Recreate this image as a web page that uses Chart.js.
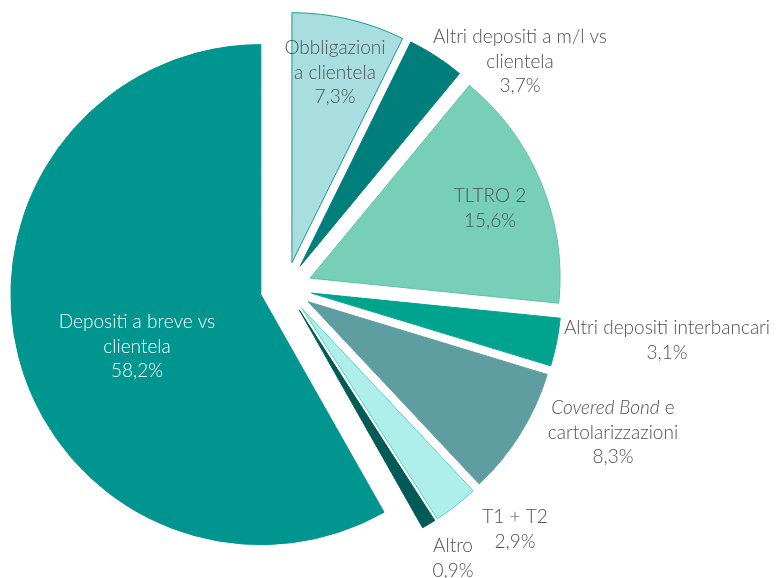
<!DOCTYPE html>
<html>
<head>
<meta charset="utf-8">
<script src="https://cdn.jsdelivr.net/npm/chart.js@4.4.0/dist/chart.umd.min.js"></script>
<style>
    body { margin: 0; background: #ffffff; }
    #wrap { width: 778px; height: 578px; position: relative; }
</style>
</head>
<body>
<div id="wrap"><canvas id="pieChart"></canvas></div>
<script>
//Main variables
var categories = ["Obbligazioni a clientela", "Altri depositi a m/l vs clientela", "TLTRO 2",
    "Altri depositi interbancari", "Covered Bond e cartolarizzazioni", "T1 + T2", "Altro",
    "Depositi a breve vs clientela"];
var values = [7.3, 3.7, 15.6, 3.1, 8.3, 2.9, 0.9, 58.2];
var valueLabels = ["7,3%", "3,7%", "15,6%", "3,1%", "8,3%", "2,9%", "0,9%", "58,2%"];

var fillColors = ['#a8dedf', '#007e7b', '#76cfb6', '#00a48e', '#5f9ea0', '#aeefec', '#005a56', '#00958f'];
var lineColors = ['#1a9a96', '#007e7b', '#5fc2a6', '#00a48e', '#5f9ea0', '#4fd3cc', '#005a56', '#00958f'];

// label text lines, [text, italic] segments per line
var labelLines = [
    [[["Obbligazioni", false]], [["a clientela", false]]],
    [[["Altri depositi a m/l vs", false]], [["clientela", false]]],
    [[["TLTRO 2", false]]],
    [[["Altri depositi interbancari", false]]],
    [[["Covered Bond", true], [" e", false]], [["cartolarizzazioni", false]]],
    [[["T1 + T2", false]]],
    [[["Altro", false]]],
    [[["Depositi a breve vs", false]], [["clientela", false]]]
];
// where each label block sits (center x, first line y)
var labelPos = [[335, 48], [520, 37], [490, 196], [667, 328], [613, 408], [515, 517], [453, 546], [137, 322]];
var labelColors = ['#505050', '#505050', '#505050', '#505050', '#505050', '#505050', '#505050', '#ffffff'];

var fontFamily = 'Lato, "Open Sans", sans-serif';
var fontSize = 19;
var lineHeight = 24.5;
var sliceOffset = 26;   // px each slice is pulled out

/* --------- keep every slice the same radius and full angle --------*/
// chart.js moves arcs by offset/4, grows them and trims their angle a bit; undo the growth and trim
var evenSlices = {
    id: 'evenSlices',
    afterDatasetUpdate(chart, args) {
        const meta = args.meta;
        const R = meta.controller.outerRadius;
        meta.data.forEach(arc => {
            const circ = arc.endAngle - arc.startAngle;
            const fix = 1 - Math.sin(Math.min(Math.PI, circ));
            const radiusOffset = (arc.options.offset / 4) * fix;
            arc.outerRadius = R - radiusOffset;
            const d = radiusOffset / Math.PI / R / 2;
            arc.startAngle -= d;
            arc.endAngle += d;
        });
    }
};

/* --------- label plugin --------*/
var sliceLabels = {
    id: 'sliceLabels',
    afterDraw(chart) {
        const ctx = chart.ctx;
        ctx.save();
        ctx.textBaseline = 'middle';
        ctx.textAlign = 'left';
        labelLines.forEach((lines, i) => {
            const all = lines.concat([[[valueLabels[i], false]]]);
            ctx.fillStyle = labelColors[i];
            all.forEach((segs, j) => {
                // measure whole line first so it can be centered
                let w = 0;
                segs.forEach(s => {
                    ctx.font = (s[1] ? 'italic ' : '') + '300 ' + fontSize + 'px ' + fontFamily;
                    w += ctx.measureText(s[0]).width;
                });
                let x = labelPos[i][0] - w / 2;
                const y = labelPos[i][1] + j * lineHeight;
                segs.forEach(s => {
                    ctx.font = (s[1] ? 'italic ' : '') + '300 ' + fontSize + 'px ' + fontFamily;
                    ctx.fillText(s[0], x, y);
                    x += ctx.measureText(s[0]).width;
                });
            });
        });
        ctx.restore();
    }
};

function pieChart() {
    const ctx = document.getElementById('pieChart').getContext('2d');
    new Chart(ctx, {
        type: 'pie',
        data: {
            labels: categories,
            datasets: [{
                data: values,
                backgroundColor: fillColors,
                borderColor: lineColors,
                borderWidth: 1,
                offset: sliceOffset * 4
            }]
        },
        options: {
            responsive: true,
            maintainAspectRatio: false,
            animation: false,
            radius: 250,
            layout: {
                padding: { left: 0, right: 206, top: 0, bottom: 2 }
            },
            plugins: {
                legend: { display: false },
                tooltip: { enabled: false }
            }
        },
        plugins: [evenSlices, sliceLabels]
    });
}

pieChart();
</script>
</body>
</html>
